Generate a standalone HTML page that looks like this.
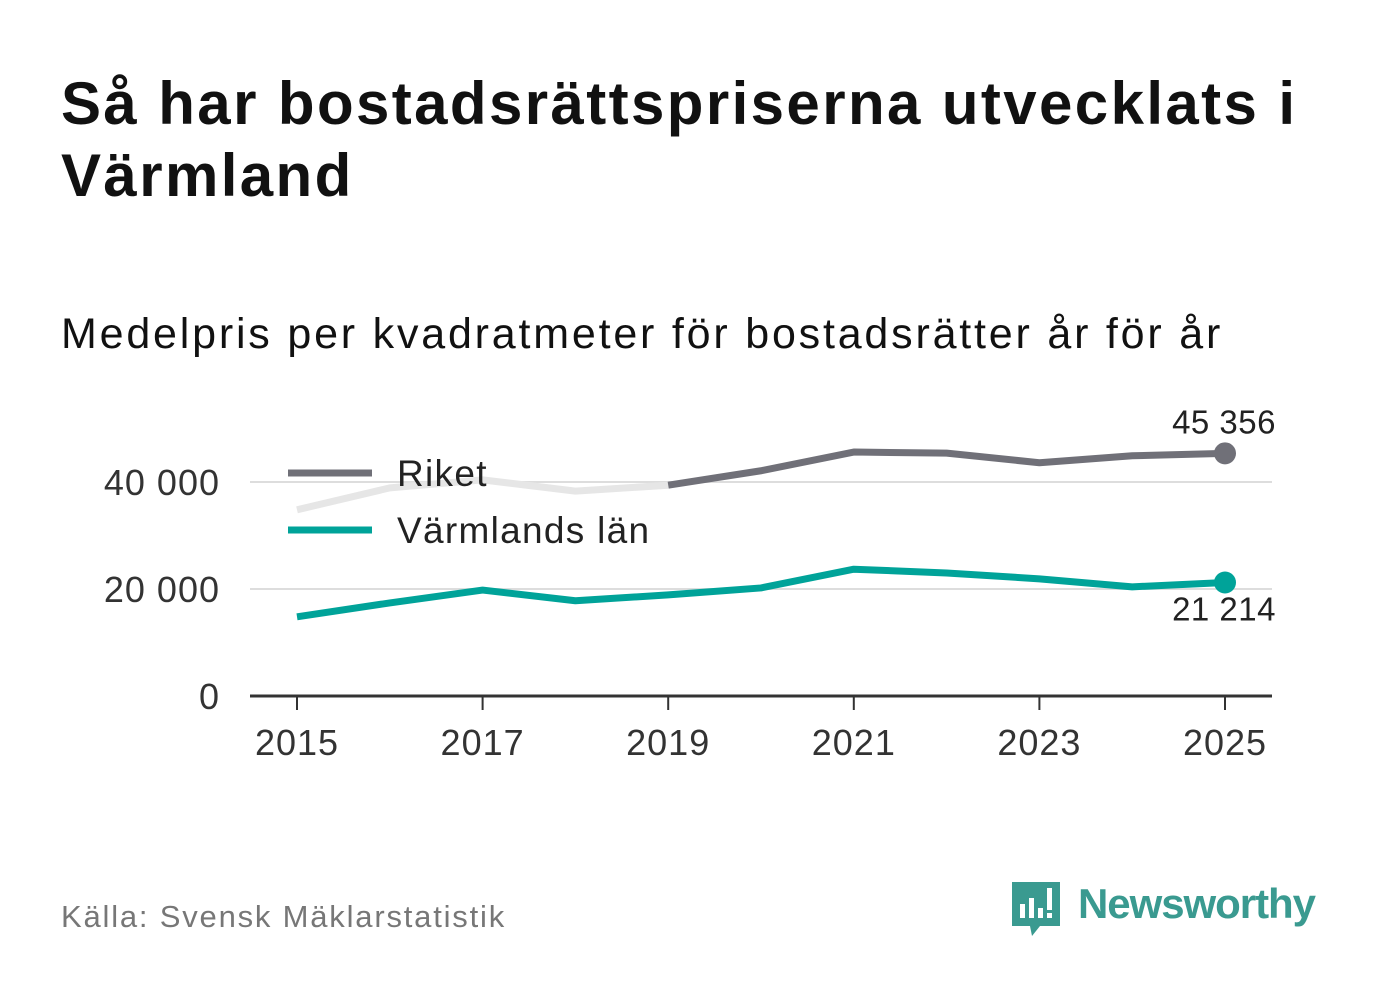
<!DOCTYPE html>
<html><head><meta charset="utf-8"><style>
body{margin:0;background:#fff;width:1382px;height:999px;overflow:hidden;font-family:"Liberation Sans","DejaVu Sans",sans-serif;}
#title{position:absolute;left:61px;top:68px;width:1300px;font-size:60px;font-weight:bold;line-height:72px;color:#111;margin:0;letter-spacing:2.4px}
#sub{position:absolute;left:61px;top:310px;font-size:43px;color:#111;letter-spacing:2.8px}
#src{position:absolute;left:61px;top:899px;font-size:31px;color:#777;letter-spacing:1.8px}
#logo{position:absolute;left:1010px;top:878px}
</style></head><body>
<h1 id="title">Så har bostadsrättspriserna utvecklats i Värmland</h1>
<div id="sub">Medelpris per kvadratmeter för bostadsrätter år för år</div>
<svg id="chart" width="1382" height="999" style="position:absolute;left:0;top:0"></svg>
<div id="src">Källa: Svensk Mäklarstatistik</div>
<div id="logo">
<svg width="320" height="64"><path d="M2 4h48v44H30l-8 10-2-10H2z" fill="#3a9a90"/><rect x="10" y="26" width="5" height="14" fill="#fff"/><rect x="19" y="20" width="5" height="20" fill="#fff"/><rect x="28" y="30" width="5" height="10" fill="#fff"/><rect x="37" y="10" width="5" height="22" fill="#fff"/><rect x="37" y="35" width="5" height="5" fill="#fff"/>
<text x="68" y="40" font-size="42" font-weight="bold" fill="#3a9a90" font-family="Liberation Sans, sans-serif" textLength="238">Newsworthy</text></svg></div>
<script>
const years=[2015,2016,2017,2018,2019,2020,2021,2022,2023,2024,2025];
const riket=[34800,38900,40400,38300,39400,42100,45600,45400,43600,44900,45356];
const varmland=[14800,17400,19800,17800,18900,20200,23700,23000,21900,20400,21214];
const yTicks=[0,20000,40000];
const yTickLabels=["0","20 000","40 000"];
const xTicks=[2015,2017,2019,2021,2023,2025];
const svg=document.getElementById('chart');const NS='http://www.w3.org/2000/svg';
const X=y=>297+(y-2015)*92.8;const Y=v=>696-v*0.005350;
function el(t,a){const e=document.createElementNS(NS,t);for(const k in a)e.setAttribute(k,a[k]);svg.appendChild(e);return e;}
yTicks.forEach((v,i)=>{
 if(v>0){const g=el('line',{x1:250,x2:1272,y1:Y(v),y2:Y(v),stroke:'#ddd','stroke-width':2});}
 const t=el('text',{x:220,y:Y(v)+13,'text-anchor':'end','font-size':36,fill:'#333','letter-spacing':1});t.textContent=yTickLabels[i];
 
});
const ax=el('line',{x1:250,x2:1272,y1:696,y2:696,stroke:'#333','stroke-width':3});

xTicks.forEach(y=>{
 const tk=el('line',{x1:X(y),x2:X(y),y1:696,y2:710,stroke:'#333','stroke-width':2});
 
 const t=el('text',{x:X(y),y:755,'text-anchor':'middle','font-size':36,fill:'#333','letter-spacing':1});t.textContent=y;
 
});
function pts(arr,a,b){return arr.slice(a,b).map((v,i)=>X(years[a+i])+','+Y(v)).join(' ');}
const r1=el('polyline',{points:pts(riket,0,5),fill:'none',stroke:'#e6e6e6','stroke-width':7,'stroke-linejoin':'round'});

const r2=el('polyline',{points:pts(riket,4,11),fill:'none',stroke:'#707078','stroke-width':7,'stroke-linejoin':'round'});

const v1=el('polyline',{points:pts(varmland,0,11),fill:'none',stroke:'#00a399','stroke-width':7,'stroke-linejoin':'round'});

const d1=el('circle',{cx:X(2025),cy:Y(riket[10]),r:11,fill:'#707078'});
const d2=el('circle',{cx:X(2025),cy:Y(varmland[10]),r:11,fill:'#00a399'});
const fmt=v=>String(v).replace(/\B(?=(\d{3})+(?!\d))/g,' ');
const l1=el('text',{x:1276,y:Y(riket[10])-20,'text-anchor':'end','font-size':33,fill:'#222','letter-spacing':0.5});l1.textContent=fmt(riket[10]);

const l2=el('text',{x:1276,y:Y(varmland[10])+38,'text-anchor':'end','font-size':33,fill:'#222','letter-spacing':0.5});l2.textContent=fmt(varmland[10]);

[['Riket','#707078',473],['Värmlands län','#00a399',530]].forEach(([n,c,y])=>{
 const s=el('line',{x1:288,x2:372,y1:y,y2:y,stroke:c,'stroke-width':7});
 const t=el('text',{x:397,y:y+13,'font-size':37,fill:'#222','letter-spacing':1.3});t.textContent=n;
});
</script></body></html>
